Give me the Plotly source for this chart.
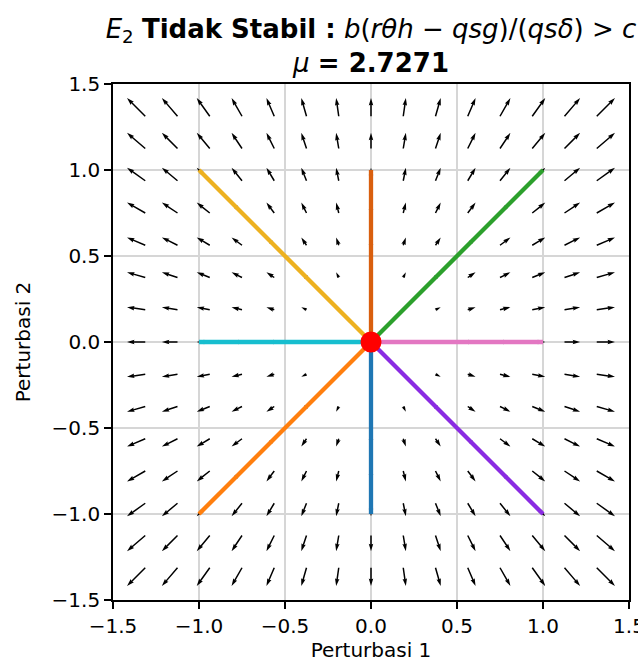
import math
import plotly.graph_objects as go

# ---------------- data ----------------
grid_x = [-1.3125, -1.125, -0.9375, -0.75, -0.5625, -0.375, -0.1875, 0.0,
          0.1875, 0.375, 0.5625, 0.75, 0.9375, 1.125, 1.3125]
grid_y = [-1.3125, -1.125, -0.9375, -0.75, -0.5625, -0.375, -0.1875, 0.0,
          0.1875, 0.375, 0.5625, 0.75, 0.9375, 1.125, 1.3125]
# linearised field at E2 (read from arrow directions / lengths)
jacobian = [[1.0, 0.0],
            [0.0, 1.0]]

spoke_end_x = [0.0, -1.0, 1.0, 0.0, -1.0, -1.0, 1.0, 1.0]
spoke_end_y = [-1.0, -1.0, 1.0, 1.0, 1.0, 0.0, 0.0, -1.0]
spoke_colors = ["#1f77b4", "#ff7f0e", "#2ca02c", "#d95f0e",
                "#edb120", "#17becf", "#e377c2", "#8a2be2"]

eq_x = [0.0]
eq_y = [0.0]

tick_vals = [-1.5, -1.0, -0.5, 0.0, 0.5, 1.0, 1.5]
tick_text = ["\u22121.5", "\u22121.0", "\u22120.5", "0.0", "0.5", "1.0", "1.5"]

title_line1 = ("<i>E</i><sub>2</sub> <b>Tidak Stabil :</b> <i>b</i>(<i>r\u03b8h</i> \u2212 "
               "<i>qsg</i>)/(<i>qs\u03b4</i>) > <i>c</i>")
title_line2 = "<i>\u03bc</i> <b>= 2.7271</b>"
xlabel = "Perturbasi 1"
ylabel = "Perturbasi 2"

# ---------------- style / layout ----------------
W, H = 638, 662
ML, MR, MT, MB = 113, 9, 84, 62
plot_px = W - ML - MR
ppu = plot_px / 3.0            # pixels per data unit (square axes)
px_per_field = 13.9            # quiver scale: px of arrow per unit of field
shaft_w = 1.5                  # px
head_w, head_l, head_al = 3.0, 5.0, 4.5
FONT = "DejaVu Sans"

# ---------------- quiver polygons ----------------
px_list, py_list = [], []
for yv in grid_y:
    for xv in grid_x:
        u = jacobian[0][0] * xv + jacobian[0][1] * yv
        v = jacobian[1][0] * xv + jacobian[1][1] * yv
        mag = math.hypot(u, v)
        if mag == 0:
            continue
        L = mag * px_per_field / shaft_w
        minsh = head_l
        if L < minsh:
            s = L / minsh
            pts = [(0, 0.5), (minsh - head_al, 0.5), (minsh - head_l, 0.5 * head_w),
                   (minsh, 0), (minsh - head_l, -0.5 * head_w), (minsh - head_al, -0.5),
                   (0, -0.5), (0, 0.5)]
            pts = [(a * s, b * s) for a, b in pts]
        else:
            pts = [(0, 0.5), (L - head_al, 0.5), (L - head_l, 0.5 * head_w), (L, 0),
                   (L - head_l, -0.5 * head_w), (L - head_al, -0.5), (0, -0.5), (0, 0.5)]
        ang = math.atan2(v, u)
        ca, sa = math.cos(ang), math.sin(ang)
        k = shaft_w / ppu
        for a, b in pts:
            px_list.append(xv + k * (a * ca - b * sa))
            py_list.append(yv + k * (a * sa + b * ca))
        px_list.append(None)
        py_list.append(None)

fig = go.Figure()
fig.add_trace(go.Scatter(x=px_list, y=py_list, mode="lines", fill="toself",
                         fillcolor="black", line=dict(width=0, color="black"),
                         hoverinfo="skip"))

for ex, ey, c in zip(spoke_end_x, spoke_end_y, spoke_colors):
    fig.add_trace(go.Scatter(x=[0.0, ex], y=[0.0, ey], mode="lines",
                             line=dict(color=c, width=4.3)))

fig.add_trace(go.Scatter(x=eq_x, y=eq_y, mode="markers",
                         marker=dict(color="#ff0000", size=21, line=dict(width=0))))

axis_common = dict(range=[-1.5, 1.5], tickvals=tick_vals, ticktext=tick_text,
                   showline=True, mirror=True, linecolor="black", linewidth=1.6,
                   ticks="outside", ticklen=7, tickwidth=1.6, tickcolor="black",
                   showgrid=True, gridcolor="#d6d6d6", gridwidth=1.5,
                   zeroline=False, fixedrange=True, ticklabeloverflow="allow",
                   automargin=False,
                   tickfont=dict(family=FONT, size=20, color="black"))

fig.update_layout(
    width=W, height=H,
    margin=dict(l=ML, r=MR, t=MT, b=MB, autoexpand=False),
    paper_bgcolor="white", plot_bgcolor="white",
    showlegend=False,
    title=dict(text=title_line1 + "<br>" + title_line2,
               x=0.5, xref="paper", xanchor="center",
               y=1 - 38 / H, yref="container", yanchor="top",
               font=dict(family=FONT, size=26, color="black")),
    xaxis=dict(axis_common, title=dict(text=xlabel, standoff=13,
                                       font=dict(family=FONT, size=20, color="black"))),
    yaxis=dict(axis_common, title=dict(text=ylabel, standoff=16,
                                       font=dict(family=FONT, size=20, color="black"))),
)

fig.write_html("out.html",
               config={"displayModeBar": False},
               post_script="document.body.style.margin='0';document.body.style.overflow='hidden';")
